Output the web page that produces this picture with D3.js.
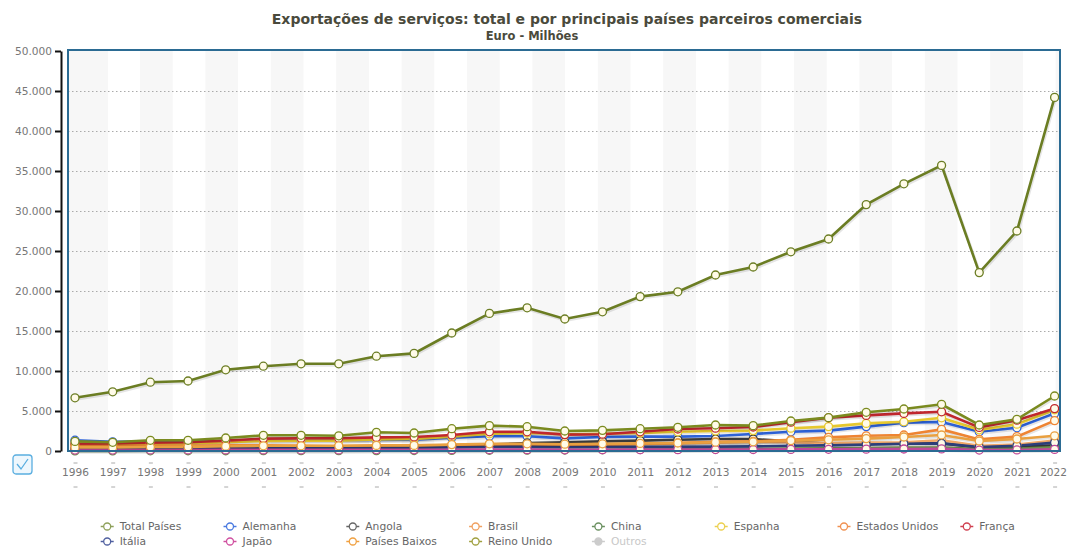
<!DOCTYPE html>
<html>
<head>
<meta charset="utf-8">
<script src="https://cdn.jsdelivr.net/npm/d3@7"></script>
<style>
  body { margin: 0; background: #fff; }
  text { font-family: "DejaVu Sans", Verdana, sans-serif; }
</style>
</head>
<body>
<div class="chart"></div>
<script>
// data (Euro - Milhões)
const years = d3.range(1996, 2023);
const yTicks = [0, 5000, 10000, 15000, 20000, 25000, 30000, 35000, 40000, 45000, 50000];

const totalPaises = [6650, 7400, 8600, 8750, 10150, 10600, 10900, 10900, 11850, 12200, 14750, 17200, 17900, 16500, 17400, 19300, 19900, 22000, 23000, 24900, 26500, 30800, 33400, 35700, 22300, 27500, 44200];
const alemanha = [1350, 1150, 1200, 1150, 1250, 1300, 1350, 1350, 1380, 1400, 1650, 1850, 1850, 1580, 1750, 1800, 1800, 1870, 2120, 2400, 2550, 3050, 3550, 3620, 2400, 2900, 4700];
const angola = [250, 250, 280, 300, 350, 380, 400, 420, 450, 500, 650, 800, 1000, 1100, 1200, 1300, 1400, 1500, 1500, 1200, 900, 950, 950, 950, 450, 500, 700];
const brasil = [250, 260, 300, 320, 350, 380, 400, 400, 420, 450, 500, 600, 650, 650, 750, 850, 950, 1050, 1150, 1100, 1000, 1050, 1100, 1350, 650, 800, 1300];
const china = [20, 20, 25, 30, 30, 35, 40, 45, 50, 60, 70, 90, 110, 120, 150, 180, 200, 230, 260, 300, 330, 380, 420, 430, 250, 300, 450];
const espanha = [800, 800, 900, 950, 1100, 1250, 1300, 1300, 1450, 1500, 1800, 2150, 2250, 2100, 2150, 2250, 2400, 2500, 2550, 2850, 3050, 3450, 3650, 4150, 2650, 3350, 5150];
const estadosUnidos = [600, 600, 650, 650, 700, 700, 650, 600, 650, 650, 750, 850, 800, 750, 800, 900, 1000, 1150, 1200, 1400, 1700, 1900, 2000, 2700, 1450, 1800, 3800];
const franca = [900, 950, 1050, 1100, 1300, 1550, 1600, 1600, 1700, 1750, 2000, 2400, 2400, 2050, 2100, 2400, 2750, 2850, 3000, 3600, 4150, 4450, 4700, 4900, 2950, 3850, 5300];
const italia = [300, 300, 320, 330, 350, 360, 370, 380, 400, 420, 450, 500, 520, 480, 500, 520, 520, 550, 580, 650, 700, 800, 900, 950, 500, 650, 1050];
const japao = [120, 120, 130, 130, 140, 140, 140, 140, 150, 150, 160, 170, 170, 150, 160, 170, 170, 180, 190, 200, 210, 230, 250, 260, 120, 130, 200];
const paisesBaixos = [450, 450, 500, 520, 600, 650, 650, 650, 700, 700, 800, 900, 900, 850, 900, 950, 1000, 1100, 1150, 1300, 1400, 1550, 1750, 2000, 1250, 1500, 1900];
const reinoUnido = [1200, 1090, 1340, 1340, 1625, 1960, 1960, 1900, 2340, 2250, 2790, 3170, 3040, 2500, 2580, 2790, 2960, 3250, 3170, 3750, 4170, 4840, 5250, 5840, 3250, 3960, 6875];

const seriesNames = ["Total Países", "Alemanha", "Angola", "Brasil", "China", "Espanha", "Estados Unidos", "França", "Itália", "Japão", "Países Baixos", "Reino Unido", "Outros"];
const seriesValues = [totalPaises, alemanha, angola, brasil, china, espanha, estadosUnidos, franca, italia, japao, paisesBaixos, reinoUnido, null];
const lineColors = ["#6b7d23", "#2d62d8", "#3a3a3a", "#f0a868", "#6b8e4e", "#e6c82e", "#ee8433", "#c0272d", "#2c3e7a", "#c0479a", "#e9a040", "#7a8a1f", "#cccccc"];
const legendColors = ["#8ea05a", "#4a7ae0", "#666666", "#f0a060", "#6a9060", "#ecd050", "#f09050", "#d04050", "#5060a0", "#d050a0", "#f0a040", "#a0a040", "#cccccc"];

const W = 1067, H = 548;
const plot = { left: 68, right: 1060, top: 51, bottom: 451 };

const svg = d3.select(".chart").append("svg").attr("width", W).attr("height", H);

const nf = d3.formatLocale({ decimal: ",", thousands: ".", grouping: [3], currency: ["", ""] }).format(",d");

const x = d3.scalePoint().domain(years).range([75, 1054.6]);
const y = d3.scaleLinear().domain([0, 50000]).range([plot.bottom, plot.top]);

// title
svg.append("text").attr("x", 567).attr("y", 24).attr("text-anchor", "middle")
  .style("font-size", "14px").style("font-weight", "bold").style("fill", "#4a4a3c")
  .text("Exportações de serviços: total e por principais países parceiros comerciais");
svg.append("text").attr("x", 532).attr("y", 40).attr("text-anchor", "middle")
  .style("font-size", "11.5px").style("font-weight", "bold").style("fill", "#4a4a3c")
  .text("Euro - Milhões");

// striped background
const bands = [[plot.left, 108]];
for (let s = 140; s < plot.right; s += 65.4) bands.push([s, Math.min(s + 32.7, plot.right)]);
svg.append("g").selectAll("rect").data(bands).join("rect")
  .attr("x", d => d[0]).attr("y", plot.top).attr("width", d => d[1] - d[0])
  .attr("height", plot.bottom - plot.top).style("fill", "#f7f7f7");

// dotted grid
svg.append("g").selectAll("line").data(yTicks.filter(d => d > 0 && d < 50000)).join("line")
  .attr("x1", plot.left).attr("x2", plot.right)
  .attr("y1", d => y(d) + 0.5).attr("y2", d => y(d) + 0.5)
  .style("stroke", "#aaa").style("stroke-width", 1).style("stroke-dasharray", "1.5,2.5");

// y axis
const yAxis = d3.axisLeft(y).tickValues(yTicks).tickFormat(nf).tickSize(6).tickSizeOuter(0).tickPadding(3);
const gy = svg.append("g").attr("transform", "translate(61,0)").call(yAxis);
gy.select(".domain").style("stroke", "#111").style("stroke-width", 2);
gy.selectAll(".tick line").style("stroke", "#111").style("stroke-width", 2);
gy.selectAll(".tick text").style("font-size", "10.6px").style("fill", "#777").style("font-family", "DejaVu Sans, Verdana, sans-serif");

// x axis: year labels with small dashes above and below
const xAxis = d3.axisBottom(x).tickSize(0).tickPadding(0);
const gx = svg.append("g").attr("transform", "translate(0,468)").call(xAxis);
gx.select(".domain").remove();
gx.selectAll(".tick text").attr("dy", "0.71em").style("font-size", "10.6px").style("fill", "#777")
  .style("font-family", "DejaVu Sans, Verdana, sans-serif");
// last label kept inside the window
gx.selectAll(".tick text").filter(d => d === 2022).attr("text-anchor", "end").attr("x", 12);
gx.selectAll(".tick").append("line").attr("x1", -2).attr("x2", 2).attr("y1", -5).attr("y2", -5).style("stroke", "#aaa");
gx.selectAll(".tick").append("line").attr("x1", -2).attr("x2", 2).attr("y1", 19).attr("y2", 19).style("stroke", "#aaa");

// lines
const line = d3.line().x((d, i) => x(years[i])).y(d => y(d));
const drawn = seriesValues.map((v, i) => ({ name: seriesNames[i], values: v, color: lineColors[i] })).filter(d => d.values);

const gLines = svg.append("g");
drawn.forEach(s => {
  gLines.append("path").datum(s.values).attr("d", line)
    .attr("transform", "translate(1,1.5)")
    .style("fill", "none").style("stroke", "#000").style("stroke-opacity", 0.1).style("stroke-width", 3);
  gLines.append("path").datum(s.values).attr("d", line)
    .style("fill", "none").style("stroke", s.color).style("stroke-width", 2.6);
});
drawn.forEach(s => {
  gLines.append("g").selectAll("circle").data(s.values).join("circle")
    .attr("cx", (d, i) => x(years[i])).attr("cy", d => y(d)).attr("r", 4)
    .style("fill", "#fffbe8").style("stroke", s.color).style("stroke-width", 1.3);
});

// plot frame
svg.append("rect").attr("x", plot.left).attr("y", plot.top - 1).attr("width", plot.right - plot.left)
  .attr("height", plot.bottom - plot.top + 1)
  .style("fill", "none").style("stroke", "#2b6b93").style("stroke-width", 2);

// checkbox icon
const cb = svg.append("g").attr("transform", "translate(13,455)");
cb.append("rect").attr("width", 19).attr("height", 19).attr("rx", 3)
  .style("fill", "#eef7fd").style("stroke", "#5aaee0").style("stroke-width", 1.3);
cb.append("path").attr("d", "M4,9 L8,14 L15,4").style("fill", "none").style("stroke", "#5aaee0").style("stroke-width", 1.3);

// legend
const legend = svg.append("g").selectAll("g").data(seriesNames).join("g")
  .attr("transform", (d, i) => `translate(${100.7 + (i % 8) * 122.8}, ${i < 8 ? 526.5 : 541.5})`);
legend.append("line").attr("x1", 0).attr("x2", 13)
  .style("stroke", (d, i) => legendColors[i]).style("stroke-width", 1.5);
legend.append("circle").attr("cx", 6.5).attr("r", 3.5)
  .style("fill", (d, i) => d === "Outros" ? "#cccccc" : "#fff")
  .style("stroke", (d, i) => legendColors[i]).style("stroke-width", 1.3);
legend.append("text").attr("x", 19).attr("dy", "0.35em")
  .style("font-size", "10.7px").style("fill", d => d === "Outros" ? "#c8c8c8" : "#666")
  .text(d => d);
</script>
</body>
</html>
